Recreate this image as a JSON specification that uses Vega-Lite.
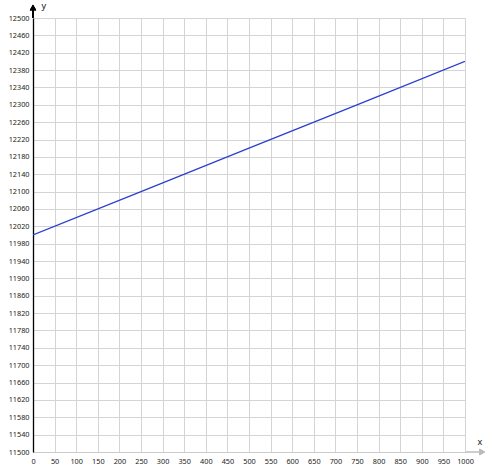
{
  "$schema": "https://vega.github.io/schema/vega-lite/v6.json",
  "width": 432,
  "height": 434,
  "autosize": "none",
  "padding": {"left": 33, "top": 18, "right": 23, "bottom": 21},
  "background": "white",
  "config": {
    "view": {"stroke": null},
    "axis": {
      "labelFont": "Noto Sans",
      "labelFontSize": 7.3,
      "labelColor": "#222222",
      "labelOverlap": false,
      "labelFlush": false,
      "labelBound": false,
      "gridColor": "#d4d4d4",
      "gridWidth": 1,
      "ticks": false,
      "titleFont": "Noto Sans",
      "titleFontSize": 9,
      "titleFontWeight": "normal",
      "titleColor": "#111111"
    }
  },
  "data": {
    "values": [
      {"x": 0, "y": 12000},
      {"x": 250, "y": 12100},
      {"x": 500, "y": 12200},
      {"x": 750, "y": 12300},
      {"x": 1000, "y": 12400}
    ]
  },
  "layer": [
    {
      "mark": {"type": "line", "color": "#2a3fcf", "strokeWidth": 1.3, "clip": true},
      "encoding": {
        "x": {
          "field": "x",
          "type": "quantitative",
          "scale": {"domain": [0, 1000], "nice": false, "zero": false},
          "axis": {
            "values": [0, 50, 100, 150, 200, 250, 300, 350, 400, 450, 500, 550, 600, 650, 700, 750, 800, 850, 900, 950, 1000],
            "tickCount": 40,
            "labelOverlap": false,
            "format": "d",
            "domainColor": "#cccccc",
            "labelPadding": 5,
            "title": "x",
            "titleAngle": 0,
            "titleX": 444,
            "titleY": -8,
            "titleAnchor": "start",
            "titleAlign": "left",
            "titleBaseline": "alphabetic"
          }
        },
        "y": {
          "field": "y",
          "type": "quantitative",
          "scale": {"domain": [11500, 12500], "nice": false, "zero": false},
          "axis": {
            "values": [11500, 11540, 11580, 11620, 11660, 11700, 11740, 11780, 11820, 11860, 11900, 11940, 11980, 12020, 12060, 12100, 12140, 12180, 12220, 12260, 12300, 12340, 12380, 12420, 12460, 12500],
            "tickCount": 40,
            "labelOverlap": false,
            "format": "d",
            "domainColor": "#000000",
            "domainWidth": 1.3,
            "labelPadding": 4,
            "title": "y",
            "titleAngle": 0,
            "titleX": 8,
            "titleY": -10,
            "titleAlign": "left",
            "titleBaseline": "alphabetic"
          }
        }
      }
    },
    {
      "mark": {"type": "rule", "color": "#000000", "strokeWidth": 1.3, "clip": false},
      "encoding": {
        "x": {"datum": 0},
        "y": {"datum": 12500},
        "y2": {"datum": 12525}
      }
    },
    {
      "mark": {"type": "point", "shape": "triangle-up", "filled": true, "color": "#000000", "size": 40, "opacity": 1, "clip": false},
      "encoding": {
        "x": {"datum": 0},
        "y": {"datum": 12524}
      }
    },
    {
      "mark": {"type": "rule", "color": "#cccccc", "strokeWidth": 1, "clip": false},
      "encoding": {
        "x": {"datum": 1000},
        "x2": {"datum": 1040},
        "y": {"datum": 11500}
      }
    },
    {
      "mark": {"type": "point", "shape": "triangle-right", "filled": true, "color": "#bbbbbb", "size": 40, "opacity": 1, "clip": false},
      "encoding": {
        "x": {"datum": 1040},
        "y": {"datum": 11500}
      }
    }
  ]
}
